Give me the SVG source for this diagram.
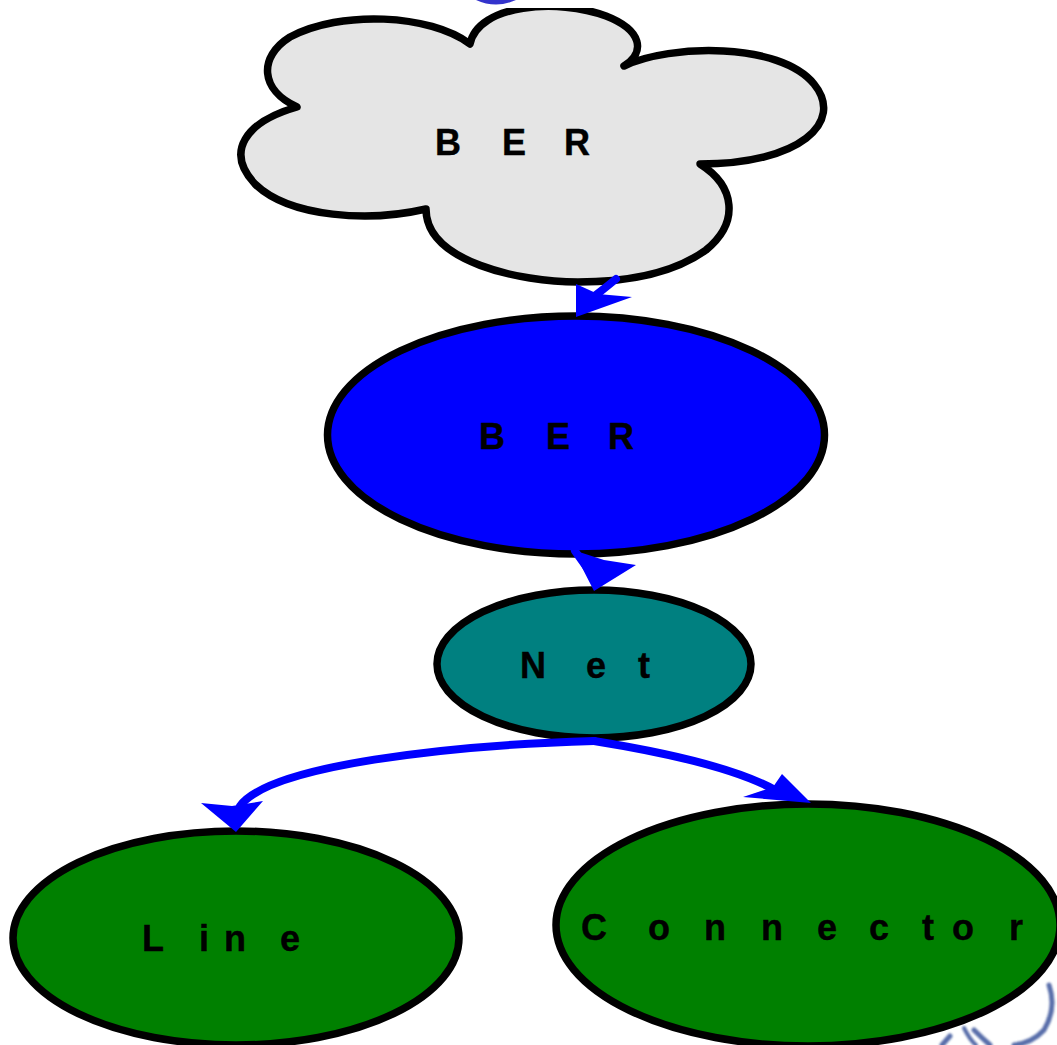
<svg xmlns="http://www.w3.org/2000/svg" width="1057" height="1045" viewBox="0 0 1057 1045">
<style>
.n{stroke:#000;stroke-width:7.5}
.t{font-family:"Liberation Sans",Arial,sans-serif;font-weight:bold;font-size:36px;fill:#000;stroke:#000;stroke-width:.4}
.c{fill:none;stroke:#00f;stroke-width:8;stroke-linecap:round}
.h{fill:#00f;stroke:none}
</style>
<defs>
<clipPath id="top"><rect x="0" y="8" width="1057" height="1037"/></clipPath>
<filter id="soft" x="-10%" y="-10%" width="120%" height="120%"><feGaussianBlur stdDeviation="0.9"/></filter>
</defs>
<rect width="1057" height="1045" fill="#fff"/>
<g id="deco">
<path d="M476 0Q496 9 516 0Z" fill="#3333cc"/>
<g fill="none" stroke="#2f4a94" stroke-linecap="round" filter="url(#soft)" opacity=".8">
<path d="M942 1045L950 1036" stroke-width="5"/>
<path d="M964 1028Q970 1040 976 1045" stroke-width="4"/>
<path d="M974 1030Q982 1038 990 1045" stroke-width="5"/>
<path d="M1049 985Q1057 1008 1044 1030Q1032 1043 1014 1045" stroke-width="5"/>
</g>
</g>
<g id="node-ber-cloud">
<path clip-path="url(#top)" class="n" fill="#e5e5e5" stroke-linejoin="round" d="M470 44C478 4 558 -2 606 16C642 30 646 52 624 66C670 44 780 42 814 84C845 122 800 164 700 164C735 186 740 222 706 250C670 276 620 282 578 282C520 282 426 262 426 209C370 222 290 218 255 184C225 152 245 122 297 107C260 90 258 57 290 37C340 10 430 14 470 44Z"/>
<text class="t" x="435 502 564" y="155">BER</text>
</g>
<g id="node-ber">
<ellipse class="n" fill="#00f" cx="576" cy="435" rx="248.500" ry="119"/>
<text class="t" x="479 546 608" y="449">BER</text>
</g>
<g id="node-net">
<ellipse class="n" fill="#008080" cx="594" cy="664" rx="157" ry="74"/>
<text class="t" x="520 586 638" y="678">Net</text>
</g>
<g id="node-line">
<ellipse class="n" fill="#008000" cx="236" cy="938" rx="223" ry="107"/>
<text class="t" x="142 199 224 280" y="951">Line</text>
</g>
<g id="node-connector">
<ellipse class="n" fill="#008000" cx="808" cy="925" rx="252" ry="121"/>
<text class="t" x="581 648 704 761 817 869 922 952 1009" y="940">Connector</text>
</g>
<g id="connectors">
<path class="c" d="M616 279Q605 288 596 295"/>
<path class="h" d="M576 284L598 294L632 297L576 317Z"/>
<path class="c" d="M575 551L590 572"/>
<path class="h" d="M573 550L604 560L636 565L594 591Z"/>
<path class="c" d="M594 741C450 745 270 765 240 806"/>
<path class="h" d="M201 803L232 806L263 801L236 832Z"/>
<path class="c" d="M594 741C650 750 730 765 775 790"/>
<path class="h" d="M743 797L773 787L782 774L811 803Z"/>
</g>
</svg>
